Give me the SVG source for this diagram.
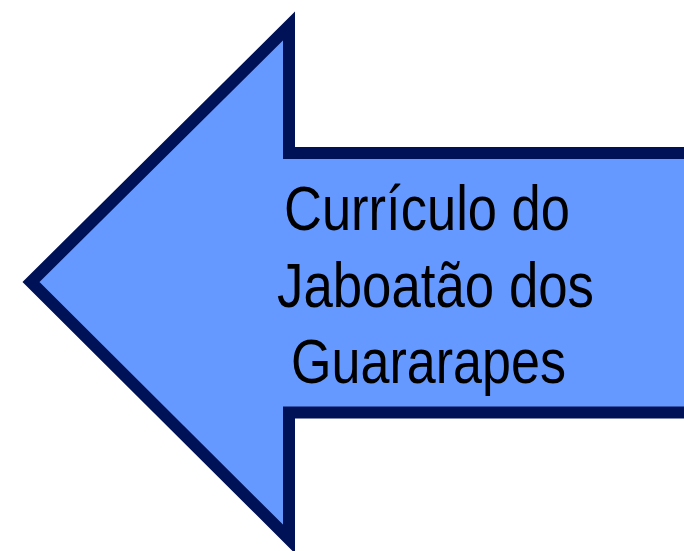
<svg xmlns="http://www.w3.org/2000/svg" width="684" height="551" viewBox="0 0 684 551">
<style>
.arrow{fill:#6699FF;stroke:#001257;stroke-width:12;stroke-linejoin:miter;stroke-miterlimit:10}
.lbl{font-family:"Liberation Sans",Arial,sans-serif;font-size:63px;fill:#000}
</style>
<rect width="684" height="551" fill="#fff"/>
<g id="arrow">
<path class="arrow" d="M31,282 L289,26 L289,153 L700,153 L700,412.5 L289,412.5 L289,539 Z"/>
<text class="lbl" x="284" y="230" textLength="286" lengthAdjust="spacingAndGlyphs">Currículo do</text>
<text class="lbl" x="277" y="306.7" textLength="317" lengthAdjust="spacingAndGlyphs">Jaboatão dos</text>
<text class="lbl" x="291" y="383" textLength="275" lengthAdjust="spacingAndGlyphs">Guararapes</text>
</g>
<g id="connectors"/>
</svg>
